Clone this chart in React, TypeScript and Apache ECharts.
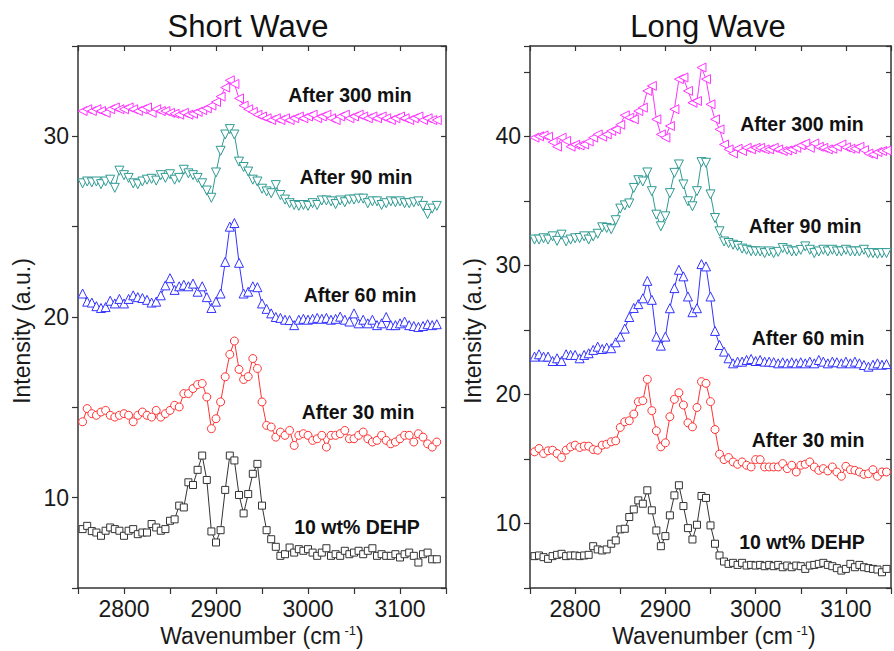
import React, { useEffect, useRef } from "react";
import * as echarts from "echarts";

// Wavenumbers (cm-1) of the sampled points
const WN = [
  2755, 2760, 2765, 2770, 2775, 2780, 2785, 2790, 2795, 2800,
  2805, 2810, 2815, 2820, 2825, 2830, 2835, 2840, 2845, 2850,
  2855, 2860, 2865, 2870, 2875, 2880, 2885, 2890, 2895, 2900,
  2905, 2910, 2915, 2920, 2925, 2930, 2935, 2940, 2945, 2950,
  2955, 2960, 2965, 2970, 2975, 2980, 2985, 2990, 2995, 3000,
  3005, 3010, 3015, 3020, 3025, 3030, 3035, 3040, 3045, 3050,
  3055, 3060, 3065, 3070, 3075, 3080, 3085, 3090, 3095, 3100,
  3105, 3110, 3115, 3120, 3125, 3130, 3135, 3140, 3145,
];

// ---- Short Wave (left) ----
const SW_300 = [
  31.4, 31.5, 31.4, 31.5, 31.4, 31.3, 31.5, 31.6, 31.5, 31.5,
  31.6, 31.5, 31.4, 31.5, 31.6, 31.3, 31.5, 31.4, 31.4, 31.3,
  31.25, 31.2, 31.3, 31.2, 31.25, 31.35, 31.45, 31.55, 31.7, 31.9,
  32.2, 32.7, 33.1, 32.9, 32.1, 31.7, 31.5, 31.35, 31.2, 31.1,
  31.0, 30.9, 31.0, 30.9, 31.0, 30.9, 31.0, 31.1, 31.0, 31.1,
  31.2, 31.0, 31.1, 31.2, 31.0, 30.9, 31.1, 31.2, 31.0, 31.1,
  31.2, 31.1, 31.0, 31.1, 31.0, 31.1, 31.0, 30.9, 31.0, 31.1,
  31.0, 30.9, 31.0, 31.1, 30.9, 31.0, 30.9, 30.9,
];
const SW_90 = [
  27.4, 27.5, 27.45, 27.5, 27.35, 27.5, 27.6, 27.15, 28.1, 27.85,
  27.7, 27.4, 27.35, 27.5, 27.6, 27.65, 27.55, 27.85, 27.7, 27.9,
  27.6, 27.7, 28.15, 27.95, 27.85, 27.7, 27.4, 27.0, 26.6, 28.0,
  29.2, 30.1, 30.4, 30.1, 28.6, 28.3, 28.05, 27.6, 27.5, 27.1,
  26.95, 26.85, 27.3, 26.75, 26.5, 26.3, 26.2, 26.15, 26.2, 26.15,
  26.3, 26.2, 26.45, 26.45, 26.4, 26.25, 26.45, 26.35, 26.5, 26.5,
  26.55, 26.55, 26.3, 26.4, 26.4, 26.2, 26.3, 26.4, 26.35, 26.4,
  26.3, 26.3, 26.35, 26.4, 26.15, 25.7, 26.0, 26.15,
];
const SW_60 = [
  21.3, 20.85, 20.8, 20.6, 20.5, 20.55, 20.9, 20.75, 21.0, 20.75,
  21.0, 21.2, 21.1, 21.05, 20.95, 20.8, 20.85, 21.2, 21.75, 22.15,
  21.5, 21.7, 21.78, 21.7, 21.85, 21.4, 21.7, 21.1, 20.5, 20.85,
  21.3, 23.05, 25.0, 25.2, 23.0, 21.3, 21.4, 21.7, 21.65, 20.75,
  20.45, 20.2, 20.0, 19.95, 19.85, 19.83, 19.55, 19.85, 19.9, 19.85,
  19.9, 19.95, 19.9, 19.95, 19.85, 19.9, 20.02, 19.85, 19.75, 20.2,
  19.65, 19.85, 19.65, 19.85, 19.55, 19.65, 20.0, 19.55, 19.55, 19.65,
  19.75, 19.55, 19.5, 19.45, 19.5, 19.6, 19.55, 19.6,
];
const SW_30 = [
  14.2, 14.93, 14.65, 14.56, 14.74, 14.83, 14.56, 14.46, 14.56, 14.65,
  14.56, 14.2, 14.56, 14.74, 14.56, 14.46, 14.83, 14.46, 14.65, 14.83,
  15.11, 15.02, 15.76, 15.76, 16.04, 16.26, 16.32, 15.57, 13.82, 14.37,
  15.3, 16.69, 17.93, 18.67, 17.1, 16.54, 16.7, 17.7, 17.15, 15.3,
  14.0, 13.91, 13.35, 13.63, 13.45, 13.72, 12.89, 13.45, 13.54, 13.45,
  13.17, 13.26, 13.45, 12.8, 13.45, 13.45, 13.54, 13.72, 13.26, 13.26,
  13.45, 13.63, 13.26, 13.08, 13.17, 13.45, 13.17, 12.98, 13.08, 13.26,
  13.45, 13.45, 13.08, 13.54, 13.35, 12.98, 12.8, 13.08,
];
const SW_DEHP = [
  8.26, 8.44, 8.15, 8.07, 7.89, 8.17, 8.35, 8.26, 8.17, 7.89,
  8.17, 8.26, 7.98, 8.07, 8.07, 8.54, 8.35, 8.17, 8.26, 8.72,
  8.8, 9.56, 9.46, 10.85, 10.7, 11.54, 12.33, 10.98, 8.13, 7.52,
  8.2, 10.43, 12.33, 12.06, 10.15, 9.13, 10.2, 11.32, 11.87, 9.56,
  8.2, 7.7, 7.28, 6.78, 6.87, 7.24, 6.96, 7.15, 7.06, 7.15,
  6.96, 6.78, 6.96, 7.2, 6.78, 6.87, 6.78, 7.06, 6.87, 6.96,
  7.06, 6.87, 7.06, 7.2, 6.78, 6.87, 6.78, 6.78, 6.87, 6.69,
  6.87, 6.96, 6.78, 6.41, 6.87, 6.96, 6.59, 6.59,
];

// ---- Long Wave (right) ----
const LW_300 = [
  39.9, 40.0, 40.07, 39.97, 39.55, 39.2, 39.9, 39.65, 39.2, 39.35,
  39.3, 39.37, 39.6, 39.9, 40.15, 39.97, 40.15, 40.41, 40.54, 40.9,
  41.63, 41.45, 41.32, 41.96, 42.22, 43.52, 43.91, 41.32, 40.15, 39.9,
  40.8, 42.1, 44.43, 44.56, 43.52, 42.6, 42.74, 45.33, 44.43, 42.48,
  41.32, 40.54, 39.37, 38.99, 38.67, 39.04, 38.86, 39.11, 38.99, 39.11,
  39.11, 38.99, 38.99, 39.11, 38.99, 38.86, 38.9, 38.99, 39.11, 39.3,
  39.45, 39.11, 39.45, 39.19, 39.11, 38.99, 39.04, 39.19, 39.37, 39.15,
  39.04, 39.04, 39.19, 38.93, 38.67, 38.6, 38.78, 38.86, 38.9,
];
const LW_90 = [
  32.0, 32.0, 32.1, 32.0, 32.25, 31.9, 32.38, 31.86, 32.0, 32.1,
  32.12, 32.25, 32.0, 32.25, 32.45, 32.95, 32.9, 32.8, 33.5, 34.4,
  34.65, 34.8, 36.0, 36.6, 36.5, 37.2, 35.75, 33.93, 33.03, 33.8,
  35.6, 37.17, 37.82, 36.27, 34.97, 34.58, 35.75, 38.0, 37.95, 35.5,
  33.67, 32.64, 31.85, 31.73, 31.6, 31.5, 31.3, 31.21, 31.1, 31.08,
  31.08, 30.95, 31.08, 30.95, 31.05, 31.34, 31.21, 31.08, 31.08, 31.2,
  31.47, 31.21, 30.95, 31.08, 31.21, 31.08, 31.21, 31.08, 31.08, 31.21,
  31.08, 31.08, 31.08, 31.21, 30.95, 30.95, 30.9, 30.95, 30.95,
];
const LW_60 = [
  22.93, 23.11, 22.93, 22.93, 22.59, 22.8, 22.59, 23.11, 23.06, 23.06,
  22.8, 23.06, 23.19, 23.45, 23.7, 23.52, 23.63, 23.58, 24.04, 24.48,
  25.1, 26.0, 26.7, 27.0, 27.45, 28.8, 27.33, 24.48, 23.78, 24.48,
  26.68, 28.24, 29.66, 29.15, 27.59, 26.37, 26.68, 30.1, 29.92, 27.59,
  24.92, 23.83, 23.32, 22.8, 22.41, 22.54, 22.54, 22.67, 22.75, 22.59,
  22.67, 22.54, 22.54, 22.5, 22.41, 22.49, 22.41, 22.49, 22.41, 22.49,
  22.41, 22.54, 22.41, 22.67, 22.54, 22.41, 22.54, 22.49, 22.41, 22.54,
  22.41, 22.54, 22.41, 22.28, 22.15, 22.3, 22.41, 22.3, 22.35,
];
const LW_30 = [
  15.55, 15.81, 15.42, 15.63, 15.68, 15.42, 15.11, 15.68, 15.94, 16.07,
  15.89, 15.99, 15.99, 15.73, 15.68, 16.07, 16.14, 16.33, 16.4, 17.44,
  17.88, 17.96, 18.48, 19.44, 19.51, 21.17, 18.74, 17.18, 15.94, 16.25,
  18.27, 19.62, 20.13, 19.18, 17.8, 17.49, 18.99, 20.99, 20.86, 19.44,
  17.28, 15.37, 14.95, 15.11, 14.77, 14.59, 14.77, 14.51, 14.38, 14.95,
  14.95, 14.38, 14.38, 14.38, 14.38, 14.64, 14.25, 14.51, 13.99, 14.51,
  14.59, 14.77, 14.38, 14.12, 14.25, 14.07, 14.38, 13.99, 13.66, 14.43,
  14.17, 14.12, 13.99, 13.81, 13.86, 14.17, 13.66, 13.99, 13.99,
];
const LW_DEHP = [
  7.47, 7.52, 7.39, 7.26, 7.47, 7.57, 7.65, 7.47, 7.52, 7.52,
  7.47, 7.52, 7.57, 8.24, 7.99, 7.91, 7.99, 8.43, 8.69, 9.54,
  9.59, 10.5, 11.09, 11.79, 11.53, 12.57, 11.02, 9.46, 8.24, 9.02,
  10.63, 12.18, 12.96, 11.35, 9.64, 8.76, 9.9, 12.13, 11.98, 9.85,
  8.43, 7.52, 7.05, 6.87, 6.95, 6.79, 6.95, 6.74, 6.79, 6.74,
  6.79, 6.69, 6.79, 6.69, 6.79, 6.61, 6.74, 6.61, 6.74, 6.69,
  6.48, 6.74, 6.79, 6.87, 6.95, 6.79, 6.69, 6.54, 6.35, 6.48,
  6.87, 6.61, 6.79, 6.61, 6.54, 6.48, 6.43, 6.22, 6.48,
];

const X_TICK_LABELS = [2800, 2900, 3000, 3100];
const Y_TICK_LABELS_SW = [10, 20, 30];
const Y_TICK_LABELS_LW = [10, 20, 30, 40];
const SERIES_NAMES = ["After 300 min", "After 90 min", "After 60 min", "After 30 min", "10 wt% DEHP"];

const FONT = "'Liberation Sans', Arial, Helvetica, sans-serif";
const AX = "#333";

const STYLES = [
  { color: "#ff33ff", symbol: "triangle", rotate: 90, size: 9 },
  { color: "#2e9a92", symbol: "triangle", rotate: 180, size: 9 },
  { color: "#3333ff", symbol: "triangle", rotate: 0, size: 9 },
  { color: "#ff3333", symbol: "circle", rotate: 0, size: 8 },
  { color: "#333333", symbol: "rect", rotate: 0, size: 7 },
];

function xAxes(gridIndex: number) {
  const base = {
    gridIndex,
    type: "value",
    min: 2750,
    max: 3150,
    interval: 50,
    splitLine: { show: false },
    axisLine: { show: true, onZero: false, lineStyle: { color: AX, width: 1.5 } },
  };
  return [
    {
      ...base,
      position: "bottom",
      axisTick: { show: true, inside: false, length: 6, lineStyle: { color: AX, width: 1.2 } },
      axisLabel: {
        show: true,
        margin: 9,
        fontSize: 23,
        color: "#1a1a1a",
        fontFamily: FONT,
        formatter: (v: number) => (X_TICK_LABELS.includes(v) ? String(v) : ""),
      },
    },
    {
      ...base,
      position: "top",
      axisTick: { show: true, inside: true, length: 5, lineStyle: { color: AX, width: 1.2 } },
      axisLabel: { show: false },
    },
  ];
}

function yAxes(gridIndex: number, max: number, labels: number[]) {
  const base = {
    gridIndex,
    type: "value",
    min: 5,
    max,
    interval: 5,
    splitLine: { show: false },
    axisLine: { show: true, onZero: false, lineStyle: { color: AX, width: 1.5 } },
  };
  return [
    {
      ...base,
      position: "left",
      axisTick: { show: true, inside: false, length: 6, lineStyle: { color: AX, width: 1.2 } },
      axisLabel: {
        show: true,
        margin: 9,
        fontSize: 23,
        color: "#1a1a1a",
        fontFamily: FONT,
        formatter: (v: number) => (labels.includes(v) ? String(v) : ""),
      },
    },
    {
      ...base,
      position: "right",
      axisTick: { show: true, inside: true, length: 5, lineStyle: { color: AX, width: 1.2 } },
      axisLabel: { show: false },
    },
  ];
}

function makeSeries(panel: number, values: number[][]) {
  const xi = panel * 2;
  return values.map((ys, i) => {
    const st = STYLES[i];
    return {
      name: SERIES_NAMES[i] + (panel === 0 ? " (SW)" : " (LW)"),
      type: "line",
      xAxisIndex: xi,
      yAxisIndex: xi,
      data: ys.map((y, k) => [WN[k], y]),
      symbol: st.symbol,
      symbolSize: st.size,
      symbolRotate: st.rotate,
      showSymbol: true,
      showAllSymbol: true,
      lineStyle: { color: st.color, width: 1 },
      itemStyle: { color: "#ffffff", borderColor: st.color, borderWidth: 1 },
      emphasis: { disabled: true },
      silent: true,
    };
  });
}

function label(text: string, x: number, y: number) {
  return {
    type: "text",
    x,
    y,
    style: {
      text,
      fill: "#111",
      font: `bold 19.5px ${FONT}`,
      align: "center",
      verticalAlign: "middle",
    },
  };
}

const SW_LABEL_POS = [
  [350, 95],
  [356, 177],
  [360, 295],
  [358, 412],
  [357, 527],
];
const LW_LABEL_POS = [
  [802, 124],
  [805, 226],
  [808, 338],
  [808, 440],
  [802, 542],
];

function xName(x: number) {
  return {
    type: "text",
    x,
    y: 636,
    style: {
      text: "{a|Wavenumber (cm}{s| -1}{a|)}",
      align: "center",
      verticalAlign: "middle",
      rich: {
        a: { fontSize: 23, fontFamily: FONT, fill: "#1a1a1a", lineHeight: 24 },
        s: { fontSize: 13, fontFamily: FONT, fill: "#1a1a1a", verticalAlign: "top", lineHeight: 14 },
      },
    },
  };
}

function yName(x: number) {
  return {
    type: "text",
    x,
    y: 331,
    rotation: Math.PI / 2,
    style: {
      text: "Intensity (a.u.)",
      fill: "#1a1a1a",
      font: `23px ${FONT}`,
      align: "center",
      verticalAlign: "middle",
    },
  };
}

function title(text: string, x: number) {
  return {
    type: "text",
    x,
    y: 26,
    style: {
      text,
      fill: "#111",
      font: `31px ${FONT}`,
      align: "center",
      verticalAlign: "middle",
    },
  };
}

export default function App() {
  const ref = useRef<HTMLDivElement>(null);
  useEffect(() => {
    if (!ref.current) return;
    const chart = echarts.init(ref.current, undefined, { renderer: "svg" });
    const option = {
      animation: false,
      backgroundColor: "#ffffff",
      grid: [
        { left: 78, top: 46, width: 368, height: 542 },
        { left: 530, top: 46, width: 368, height: 542 },
      ],
      xAxis: [...xAxes(0), ...xAxes(1)],
      yAxis: [...yAxes(0, 35, Y_TICK_LABELS_SW), ...yAxes(1, 47, Y_TICK_LABELS_LW)],
      series: [
        ...makeSeries(0, [SW_300, SW_90, SW_60, SW_30, SW_DEHP]),
        ...makeSeries(1, [LW_300, LW_90, LW_60, LW_30, LW_DEHP]),
      ],
      graphic: [
        title("Short Wave", 248),
        title("Long Wave", 708),
        yName(22),
        yName(473),
        xName(262),
        xName(714),
        ...SERIES_NAMES.map((n, i) => label(n, SW_LABEL_POS[i][0], SW_LABEL_POS[i][1])),
        ...SERIES_NAMES.map((n, i) => label(n, LW_LABEL_POS[i][0], LW_LABEL_POS[i][1])),
      ],
    };
    chart.setOption(option as any);
    return () => chart.dispose();
  }, []);
  return (
    <div
      ref={ref}
      style={{ position: "fixed", left: 0, top: 0, width: 894, height: 651, overflow: "hidden" }}
    />
  );
}
